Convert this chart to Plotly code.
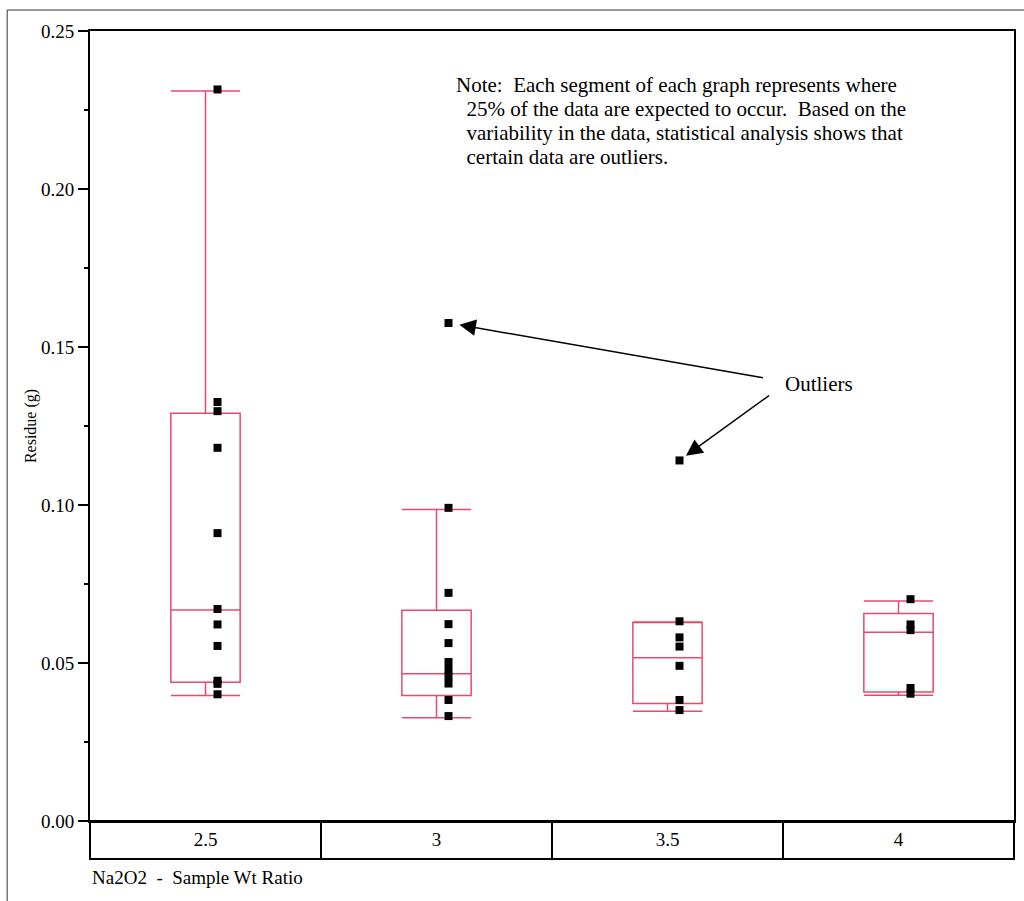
import plotly.graph_objects as go

# ---------------- data ----------------
categories = ["2.5", "3", "3.5", "4"]

q1 = [0.0439, 0.0397, 0.0372, 0.0408]
median = [0.0668, 0.0466, 0.0517, 0.0597]
q3 = [0.1290, 0.0667, 0.0628, 0.0657]
lower_whisker = [0.0397, 0.0327, 0.0347, 0.0398]
upper_whisker = [0.2310, 0.0986, 0.0630, 0.0696]

points_25 = [0.2315, 0.1326, 0.1297, 0.1181, 0.0911, 0.0671, 0.0622, 0.0554, 0.0444, 0.0434, 0.0401]
points_3 = [0.1576, 0.0991, 0.0722, 0.0623, 0.0563, 0.0503, 0.0478, 0.0457, 0.0435, 0.0383, 0.0332]
points_35 = [0.1141, 0.0632, 0.0581, 0.0552, 0.0491, 0.0383, 0.0351]
points_4 = [0.0702, 0.0622, 0.0604, 0.0421, 0.0403]

y_ticks = [0.00, 0.05, 0.10, 0.15, 0.20, 0.25]

note_lines = [
    "Note:\u00a0 Each segment of each graph represents where",
    "\u00a0\u00a025% of the data are expected to occur.\u00a0 Based on the",
    "\u00a0\u00a0variability in the data, statistical analysis shows that",
    "\u00a0\u00a0certain data are outliers.",
]
outlier_label = "Outliers"
x_title = "Na2O2\u00a0 -\u00a0 Sample Wt Ratio"
y_title = "Residue (g)"

# ---------------- layout geometry / style ----------------
W, H = 1024, 901
ML, MR, MT, MB = 90, 8, 31, 80
PW = W - ML - MR
PH = H - MT - MB
FONT = "Liberation Serif"
PINK = "#E84A6C"


def paper_x(px):
    return (px - ML) / PW


def paper_y(py):
    return (H - MB - py) / PH


pos = list(range(len(categories)))
x_range = [-0.5, len(categories) - 0.5]
pt_offset = 0.052
points_by_group = [points_25, points_3, points_35, points_4]

fig = go.Figure()

fig.add_trace(go.Box(
    x=pos, q1=q1, median=median, q3=q3,
    lowerfence=lower_whisker, upperfence=upper_whisker,
    width=0.30, whiskerwidth=1,
    line=dict(color=PINK, width=1.5),
    fillcolor="rgba(0,0,0,0)",
    boxpoints=False, hoverinfo="skip", showlegend=False,
))

xs, ys = [], []
for i, pts in enumerate(points_by_group):
    xs += [i + pt_offset] * len(pts)
    ys += pts
fig.add_trace(go.Scatter(
    x=xs, y=ys, mode="markers",
    marker=dict(symbol="square", size=8, color="black", line=dict(width=0)),
    showlegend=False, cliponaxis=False, hoverinfo="y",
))

# category strip under the plot
strip_bottom = paper_y(859)
shapes = [
    dict(type="rect", xref="paper", yref="paper", x0=0, x1=1, y0=strip_bottom, y1=0,
         line=dict(color="black", width=2), layer="above"),
    dict(type="rect", xref="paper", yref="paper",
         x0=paper_x(7), x1=paper_x(1040), y0=paper_y(930), y1=paper_y(10),
         line=dict(color="#333333", width=1), layer="below"),
]
for i in range(len(categories) - 1):
    bx = (i + 0.5 - x_range[0]) / (x_range[1] - x_range[0])
    shapes.append(dict(type="line", xref="paper", yref="paper", x0=bx, x1=bx,
                       y0=strip_bottom, y1=0, line=dict(color="black", width=2)))

annotations = []
line_y0 = 85
for k, txt in enumerate(note_lines):
    annotations.append(dict(
        text=txt, xref="paper", yref="paper", x=paper_x(455), y=paper_y(line_y0 + 24 * k),
        xanchor="left", yanchor="middle", showarrow=False, align="left",
        font=dict(family=FONT, size=21, color="black")))

annotations.append(dict(
    text=outlier_label, xref="paper", yref="paper", x=paper_x(784), y=paper_y(384),
    xanchor="left", yanchor="middle", showarrow=False,
    font=dict(family=FONT, size=21, color="black")))

annotations.append(dict(
    text=x_title, xref="paper", yref="paper", x=0, y=paper_y(877),
    xanchor="left", yanchor="middle", showarrow=False,
    font=dict(family=FONT, size=19, color="black")))

# arrows pointing at the outliers
annotations.append(dict(
    text="", x=1 + pt_offset, y=points_3[0], xref="x", yref="y",
    ax=316, ay=55, showarrow=True, arrowhead=2, arrowsize=2.2, arrowwidth=1.5,
    arrowcolor="black", standoff=11))
annotations.append(dict(
    text="", x=2 + pt_offset, y=points_35[0], xref="x", yref="y",
    ax=91, ay=-66, showarrow=True, arrowhead=2, arrowsize=2.2, arrowwidth=1.5,
    arrowcolor="black", standoff=8))

fig.update_layout(
    width=W, height=H,
    margin=dict(l=ML, r=MR, t=MT, b=MB, pad=0),
    paper_bgcolor="white", plot_bgcolor="white",
    font=dict(family=FONT, color="black"),
    showlegend=False,
    xaxis=dict(
        range=x_range, tickvals=pos, ticktext=categories,
        showline=True, linecolor="black", linewidth=2, mirror=True,
        showgrid=False, zeroline=False,
        ticks="", ticklen=0,
        tickfont=dict(family=FONT, size=19, color="black"),
    ),
    yaxis=dict(
        range=[0, 0.25], tickvals=y_ticks, tickformat=".2f",
        showline=True, linecolor="black", linewidth=2, mirror=True,
        showgrid=False, zeroline=False,
        ticks="outside", ticklen=10, tickwidth=1.5, tickcolor="black",
        minor=dict(dtick=0.025, ticks="outside", ticklen=4, tickwidth=1.5, tickcolor="black"),
        tickfont=dict(family=FONT, size=19, color="black"),
        title=dict(text=y_title, font=dict(family=FONT, size=16, color="black"), standoff=0),
    ),
    shapes=shapes,
    annotations=annotations,
)

fig.write_html("out.html", config={"displayModeBar": False},
               post_script="document.body.style.margin='0';")
